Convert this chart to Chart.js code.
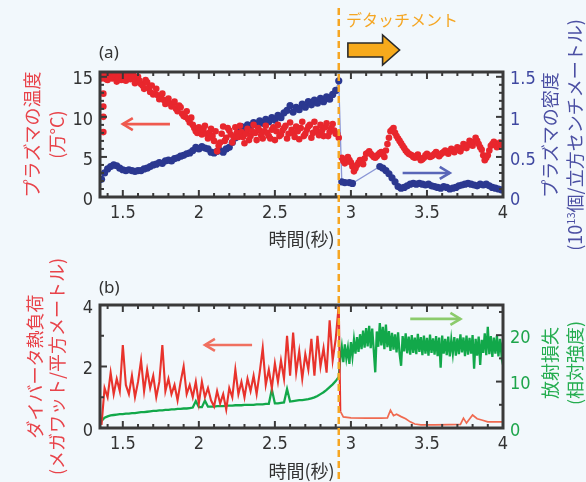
<!DOCTYPE html>
<html><head><meta charset="utf-8">
<script src="https://cdn.jsdelivr.net/npm/chart.js@4.4.1/dist/chart.umd.min.js"></script>
<style>
html,body{margin:0;padding:0;background:#f2f8fc;}
#wrap{position:relative;width:586px;height:482px;overflow:hidden;background:#f2f8fc;}
.pane{position:absolute;left:0;width:586px;}
canvas{display:block;}
.lbl{position:absolute;font-family:'Noto Sans','Noto Sans CJK JP',sans-serif;font-size:17px;color:#333;line-height:20px;white-space:nowrap;}
.rt{position:absolute;font-family:'Noto Sans CJK JP',sans-serif;font-size:18px;line-height:25px;text-align:center;white-space:nowrap;transform:rotate(-90deg);transform-origin:50% 50%;}
.rt sup{font-size:11px;line-height:0;vertical-align:7px;}
</style></head>
<body>
<div id="wrap">
<div class="pane" style="top:0;height:252px"><canvas id="ca" width="586" height="252"></canvas></div>
<div class="pane" style="top:252px;height:230px"><canvas id="cb" width="586" height="230"></canvas></div>
<div class="lbl" style="left:99px;top:42px">(a)</div>
<div class="lbl" style="left:99px;top:277px">(b)</div>
<div class="lbl" style="left:346px;top:9px;color:#f5a623;font-family:'Noto Sans CJK JP',sans-serif;font-size:16px">デタッチメント</div>
<div class="rt" style="left:432px;top:110px;width:260px;height:50px;color:#4b4fa3">プラズマの密度<br>(10<sup>13</sup>個/立方センチメートル)</div>
<div class="rt" style="left:482px;top:338px;width:160px;height:50px;color:#25ad50">放射損失<br>(相対強度)</div>
</div>
<script>
// ---------- data ----------
const xTicks = [1.5, 2, 2.5, 3, 3.5, 4];
const tempTicks = [0, 5, 10, 15];
const densTicks = [0, 0.5, 1, 1.5];
const heatTicks = [0, 2, 4];
const radTicks = [0, 10, 20];
const detachTime = 2.92;

// sample times before detachment (both panels)
const timePre = [1.36,1.38,1.40,1.42,1.44,1.46,1.48,1.50,1.52,1.54,1.56,1.58,1.60,1.62,1.64,1.66,1.68,1.70,1.72,1.74,1.76,1.78,1.80,1.82,1.84,1.86,1.88,1.90,1.92,1.94,1.96,1.98,2.00,2.02,2.04,2.06,2.08,2.10,2.12,2.14,2.16,2.18,2.20,2.22,2.24,2.26,2.28,2.30,2.32,2.34,2.36,2.38,2.40,2.42,2.44,2.46,2.48,2.50,2.52,2.54,2.56,2.58,2.60,2.62,2.64,2.66,2.68,2.70,2.72,2.74,2.76,2.78,2.80,2.82,2.84,2.86,2.88,2.90,2.92];
const timePreB = [1.37,1.39,1.41,1.43,1.45,1.47,1.49,1.51,1.53,1.55,1.57,1.59,1.61,1.63,1.65,1.67,1.69,1.71,1.73,1.75,1.77,1.79,1.81,1.83,1.85,1.87,1.89,1.91,1.93,1.95,1.97,1.99,2.01,2.03,2.05,2.07,2.09,2.11,2.13,2.15,2.17,2.19,2.21,2.23,2.25,2.27,2.29,2.31,2.33,2.35,2.37,2.39,2.41,2.43,2.45,2.47,2.49,2.51,2.53,2.55,2.57,2.59,2.61,2.63,2.65,2.67,2.69,2.71,2.73,2.75,2.77,2.79,2.81,2.83,2.85,2.87,2.89,2.91];

// (a) plasma temperature (10^4 C)
const timeTempStart = [1.372,1.372,1.372,1.372];
const tempStart = [8.1,10.0,11.3,12.9];
const tempPre = [14.8,15.3,14.6,15.5,15.0,14.4,15.4,15.0,14.5,15.5,14.9,14.2,15.0,14.1,13.5,14.3,13.1,12.8,13.5,12.2,12.9,11.6,12.3,11.3,11.9,10.7,11.2,10.1,10.7,9.3,9.0,8.2,8.7,7.8,8.9,7.3,8.5,7.0,5.7,6.8,8.8,7.4,8.3,6.8,8.7,7.5,8.1,6.7,8.5,7.6,9.0,7.1,8.3,7.3,8.9,7.6,8.4,7.1,9.0,7.8,8.6,7.3,9.3,8.0,8.8,7.2,9.4,7.9,8.8,7.4,9.4,8.2,9.0,7.6,9.2,8.1,9.1,7.9,7.4];
const tempPreB = [15.1,14.7,15.2,14.8,15.3,14.9,14.6,15.3,15.0,14.7,15.2,14.6,14.5,13.9,14.6,13.6,13.9,12.9,12.7,12.5,12.1,12.0,11.7,11.6,11.0,11.4,10.4,10.0,9.7,9.9,8.6,8.0,8.3,8.4,7.9,8.0,7.6,8.2,6.4,7.9,7.0,8.6,7.8,7.4,8.0,8.9,7.5,7.9,7.1,8.2,8.0,8.6,7.7,8.2,8.0,7.3,8.7,8.2,7.6,8.3,8.9,7.9,8.4,7.5,8.2,8.6,7.6,8.4,9.0,8.0,8.5,7.7,8.3,8.7,7.6,8.6,8.3,7.9];
const timeTempPost = [2.94,2.96,2.98,3.00,3.02,3.04,3.06,3.08,3.10,3.12,3.14,3.16,3.18,3.20,3.22,3.24,3.26,3.28,3.30,3.32,3.34,3.36,3.38,3.40,3.42,3.44,3.46,3.48,3.50,3.52,3.54,3.56,3.58,3.60,3.62,3.64,3.66,3.68,3.70,3.72,3.74,3.76,3.78,3.80,3.82,3.84,3.86,3.88,3.90,3.92,3.94,3.96,3.98,4.00];
const tempPost = [4.9,4.2,5.0,4.3,3.2,4.0,4.6,4.1,5.4,5.7,5.2,4.9,5.3,5.6,5.0,6.6,8.2,8.6,7.6,7.0,6.4,5.8,5.4,5.2,4.9,5.3,4.6,4.9,5.4,5.0,5.2,5.6,5.1,5.5,5.8,5.4,6.0,5.6,6.2,5.7,6.6,6.1,7.0,6.4,7.4,6.6,5.9,4.6,5.2,6.4,6.9,6.2,6.8,6.5];
const timeTempPostB = [2.95,2.97,2.99,3.01,3.03,3.05,3.07,3.09,3.11,3.13,3.15,3.17,3.19,3.21,3.23,3.25,3.27,3.29,3.31,3.33,3.35,3.37,3.39,3.41,3.43,3.45,3.47,3.49,3.51,3.53,3.55,3.57,3.59,3.61,3.63,3.65,3.67,3.69,3.71,3.73,3.75,3.77,3.79,3.81,3.83,3.85,3.87,3.89,3.91,3.93,3.95,3.97,3.99];
const tempPostB = [4.5,4.7,4.6,3.8,3.6,4.3,4.4,4.8,5.5,5.4,5.0,5.1,5.5,5.3,5.8,7.4,8.4,8.0,7.3,6.7,6.1,5.6,5.3,5.0,5.1,4.9,4.7,5.2,5.2,5.1,5.4,5.3,5.3,5.6,5.6,5.7,5.8,5.9,5.9,6.1,6.3,6.5,6.7,6.9,7.0,6.2,5.2,4.9,5.8,6.6,6.5,6.5,6.6];

// (a) plasma density (10^13 /cm3)
const densPre = [0.22,0.30,0.35,0.38,0.40,0.39,0.36,0.34,0.33,0.34,0.33,0.32,0.33,0.33,0.35,0.36,0.38,0.40,0.41,0.43,0.42,0.45,0.46,0.45,0.48,0.49,0.51,0.52,0.54,0.55,0.58,0.62,0.60,0.63,0.61,0.60,0.56,0.55,0.57,0.58,0.56,0.60,0.62,0.68,0.74,0.82,0.88,0.86,0.90,0.88,0.93,0.90,0.95,0.92,0.97,0.94,0.99,0.96,1.02,0.99,1.05,1.08,1.14,1.06,1.12,1.09,1.16,1.12,1.19,1.15,1.21,1.17,1.23,1.19,1.25,1.22,1.28,1.33,1.45];
const timeDensPost = [2.94,2.96,2.99,3.01,3.19,3.21,3.23,3.25,3.27,3.29,3.31,3.33,3.35,3.37,3.39,3.41,3.43,3.45,3.47,3.49,3.51,3.53,3.55,3.57,3.59,3.61,3.63,3.65,3.67,3.69,3.71,3.73,3.75,3.77,3.79,3.81,3.83,3.85,3.87,3.89,3.91,3.93,3.95,3.97,3.99];
const densPost = [0.19,0.18,0.18,0.17,0.38,0.36,0.33,0.29,0.24,0.19,0.13,0.11,0.12,0.14,0.16,0.17,0.16,0.17,0.16,0.15,0.16,0.14,0.13,0.12,0.11,0.13,0.12,0.10,0.11,0.12,0.14,0.15,0.16,0.17,0.16,0.15,0.14,0.16,0.15,0.16,0.14,0.12,0.11,0.10,0.09];

// (b) divertor heat load (MW/m2)
const heatPre = [0.1,1.3,1.0,1.8,1.1,1.6,1.2,2.7,1.4,1.1,1.7,1.0,1.5,2.2,1.2,1.9,1.3,1.7,1.0,1.5,2.7,1.2,1.6,1.1,1.4,0.9,1.5,2.0,1.1,1.4,1.0,1.5,0.8,1.5,1.0,1.3,0.9,0.7,1.2,0.8,1.1,0.6,1.3,1.0,1.9,1.1,1.5,1.0,1.6,1.2,1.7,1.1,1.8,2.6,1.4,1.9,1.3,2.1,1.5,2.2,1.6,3.0,1.7,3.1,1.8,2.5,1.6,2.4,1.9,2.9,1.7,3.0,2.0,2.6,1.8,3.5,2.2,2.9,4.0];
const timeHeatPost = [2.93,2.95,3.00,3.10,3.20,3.24,3.26,3.28,3.30,3.33,3.36,3.39,3.42,3.46,3.55,3.65,3.72,3.74,3.76,3.80,3.83,3.86,3.90,4.00];
const heatPost = [0.55,0.36,0.33,0.32,0.32,0.33,0.58,0.40,0.45,0.37,0.30,0.20,0.13,0.10,0.10,0.11,0.12,0.32,0.16,0.42,0.30,0.26,0.20,0.20];

// (b) radiation loss (relative)
const radPre = [1.5,2.2,2.5,2.7,2.8,2.9,3.0,3.0,3.1,3.1,3.2,3.2,3.3,3.4,3.4,3.5,3.6,3.7,3.7,3.8,3.8,3.9,3.9,4.0,4.0,4.1,4.1,4.2,4.2,4.3,4.4,5.8,4.5,4.5,5.9,4.6,4.6,4.6,4.7,4.7,4.7,4.8,4.8,4.8,4.9,4.9,4.9,5.0,5.0,5.0,5.0,5.1,5.1,5.1,5.2,5.2,8.3,5.3,5.3,5.4,5.5,8.4,5.7,5.8,5.9,6.0,6.0,6.1,6.2,6.4,6.6,6.9,7.3,7.7,8.2,8.8,9.4,10.1,11.0];
const timeRadPost = [2.93,2.94,2.95,2.96,2.97,2.98,2.99,3.00,3.01,3.02,3.03,3.04,3.05,3.06,3.07,3.08,3.09,3.10,3.11,3.12,3.13,3.14,3.15,3.16,3.17,3.18,3.19,3.20,3.21,3.22,3.23,3.24,3.25,3.26,3.27,3.28,3.29,3.30,3.31,3.32,3.33,3.34,3.35,3.36,3.37,3.38,3.39,3.40,3.41,3.42,3.43,3.44,3.45,3.46,3.47,3.48,3.49,3.50,3.51,3.52,3.53,3.54,3.55,3.56,3.57,3.58,3.59,3.60,3.61,3.62,3.63,3.64,3.65,3.66,3.67,3.68,3.69,3.70,3.71,3.72,3.73,3.74,3.75,3.76,3.77,3.78,3.79,3.80,3.81,3.82,3.83,3.84,3.85,3.86,3.87,3.88,3.89,3.90,3.91,3.92,3.93,3.94,3.95,3.96,3.97,3.98,3.99,4.00];
const radPost = [15.0,17.5,14.2,18.0,15.0,17.2,13.8,18.5,15.5,19.0,16.0,19.6,16.4,20.2,17.0,21.0,17.3,21.5,17.6,22.0,17.2,21.4,16.8,12.0,20.8,17.5,22.6,17.8,21.8,17.0,22.3,17.4,20.9,16.6,20.5,16.9,20.2,16.3,20.6,16.0,13.4,19.8,16.5,20.4,16.1,19.7,15.8,20.0,16.2,19.5,15.9,20.3,16.4,19.6,15.7,19.9,16.0,19.4,15.6,20.1,16.2,19.3,15.8,19.8,15.5,19.5,13.0,19.9,16.0,19.2,15.7,19.7,15.4,19.0,16.1,19.6,15.6,19.3,15.9,20.2,16.3,19.5,15.5,19.9,15.8,19.4,16.0,20.0,12.8,19.2,15.6,19.7,13.6,19.0,16.2,20.4,15.7,21.8,15.9,19.8,15.3,19.5,16.0,19.9,15.4,19.2,15.8,18.6];

// ---------- helpers ----------
const pts = (ts, vs) => ts.map((t, i) => ({x: t, y: vs[i]}));
const byX = (p, q) => p.x - q.x;
const NUMF = "'Liberation Sans Narrow','Arial Narrow','DejaVu Sans Condensed',sans-serif";
const CJK = "'Noto Sans CJK JP','Noto Sans',sans-serif";
const tickFont = {family: NUMF, size: 18};

function drawArrow(ctx, x1, y, x2, color, w, head) {
  ctx.save();
  ctx.strokeStyle = color; ctx.lineWidth = w; ctx.lineCap = 'butt'; ctx.lineJoin = 'miter';
  ctx.beginPath(); ctx.moveTo(x1, y); ctx.lineTo(x2, y); ctx.stroke();
  const d = Math.sign(x2 - x1);
  ctx.beginPath(); ctx.moveTo(x2 - d * head, y - head * 0.6); ctx.lineTo(x2, y); ctx.lineTo(x2 - d * head, y + head * 0.6); ctx.stroke();
  ctx.restore();
}
function tickVals(scale, step) {
  const out = [];
  const n0 = Math.ceil(scale.min / step - 1e-6), n1 = Math.floor(scale.max / step + 1e-6);
  for (let n = n0; n <= n1; n++) out.push(n * step);
  return out;
}
const isMajor = (v, m) => Math.abs(v / m - Math.round(v / m)) < 1e-6;

const framePlugin = {
  id: 'frame',
  afterDraw(chart, args, o) {
    const {ctx, chartArea: a, scales} = chart;
    ctx.save();
    (o.arrows || []).forEach(ar => {
      const s = scales[ar.axis];
      drawArrow(ctx, scales.x.getPixelForValue(ar.from), s.getPixelForValue(ar.y), scales.x.getPixelForValue(ar.to), ar.color, 2.6, 10);
    });
    ctx.strokeStyle = '#3a3a3a'; ctx.lineWidth = 3;
    ctx.strokeRect(a.left, a.top, a.right - a.left, a.bottom - a.top);
    ctx.lineWidth = 2;
    const line = (x1, y1, x2, y2) => { ctx.beginPath(); ctx.moveTo(x1, y1); ctx.lineTo(x2, y2); ctx.stroke(); };
    tickVals(scales.x, o.xMinor).forEach(v => {
      const px = scales.x.getPixelForValue(v); const L = isMajor(v, o.xMajor) ? 7 : 4;
      line(px, a.bottom, px, a.bottom - L); line(px, a.top, px, a.top + L);
    });
    tickVals(scales.y, o.yMinor).forEach(v => {
      const py = scales.y.getPixelForValue(v); const L = isMajor(v, o.yMajor) ? 7 : 4;
      line(a.left, py, a.left + L, py);
    });
    tickVals(scales.y2, o.y2Minor).forEach(v => {
      const py = scales.y2.getPixelForValue(v); const L = isMajor(v, o.y2Major) ? 7 : 4;
      line(a.right, py, a.right - L, py);
    });
    const xd = scales.x.getPixelForValue(detachTime);
    ctx.strokeStyle = '#f6a623'; ctx.lineWidth = 2.5; ctx.setLineDash([7, 4]);
    line(xd, o.dashTop, xd, chart.height);
    ctx.setLineDash([]);
    if (o.bigArrow) {
      const x0 = scales.x.getPixelForValue(2.98), x1 = scales.x.getPixelForValue(3.32);
      const yc = a.top - 22, hx = x1 - 17;
      ctx.beginPath();
      ctx.moveTo(x0, yc - 7); ctx.lineTo(hx, yc - 7); ctx.lineTo(hx, yc - 15); ctx.lineTo(x1, yc);
      ctx.lineTo(hx, yc + 15); ctx.lineTo(hx, yc + 7); ctx.lineTo(x0, yc + 7); ctx.closePath();
      ctx.fillStyle = '#f7aa1c'; ctx.fill();
      ctx.strokeStyle = '#2a2a2a'; ctx.lineWidth = 1.6; ctx.stroke();
    }
    ctx.restore();
  }
};

function yScale(pos, min, max, ticks, color, width, extra) {
  return Object.assign({
    position: pos, min: min, max: max,
    afterFit: s => { s.width = width; },
    afterBuildTicks: s => { s.ticks = ticks.map(v => ({value: v})); },
    ticks: {font: tickFont, color: color, padding: 7, labelOffset: 3, callback: v => String(v)},
    grid: {display: false, drawTicks: false}, border: {display: false}
  }, extra || {});
}
function xScale(h, titlePadBottom) {
  return {
    type: 'linear', min: 1.35, max: 4,
    afterFit: s => { s.height = h; },
    afterBuildTicks: s => { s.ticks = xTicks.map(v => ({value: v})); },
    ticks: {font: tickFont, color: '#333', padding: 6, autoSkip: false, maxRotation: 0, callback: v => String(v)},
    grid: {display: false, drawTicks: false}, border: {display: false},
    title: {display: true, text: '時間(秒)', color: '#333', font: {family: CJK, size: 18, lineHeight: 1.2}, padding: {top: 0, bottom: titlePadBottom}}
  };
}

// ---------- chart (a) ----------
const tempData = pts(timeTempStart, tempStart).concat(pts(timePre, tempPre), pts(timePreB, tempPreB), pts(timeTempPost, tempPost), pts(timeTempPostB, tempPostB)).sort(byX);
new Chart(document.getElementById('ca'), {
  type: 'scatter',
  data: {datasets: [
    {label: 'プラズマの温度', data: tempData,
     yAxisID: 'y', showLine: false, pointRadius: 3.3, pointBorderWidth: 0, pointBackgroundColor: '#e8262d', backgroundColor: '#e8262d'},
    {label: 'プラズマの密度', data: pts(timePre, densPre).concat(pts(timeDensPost, densPost)),
     yAxisID: 'y2', showLine: true, borderColor: '#8b97d6', borderWidth: 1.3, pointRadius: 3.6, pointBorderWidth: 0,
     pointBackgroundColor: '#2b3890', backgroundColor: '#2b3890'}
  ]},
  options: {
    responsive: false, animation: false, events: [],
    layout: {padding: {top: 72, left: 0, right: 0, bottom: 0}},
    plugins: {legend: {display: false}, tooltip: {enabled: false},
      frame: {xMinor: 0.1, xMajor: 0.5, yMinor: 1, yMajor: 5, y2Minor: 0.1, y2Major: 0.5, dashTop: 8, bigArrow: true,
        arrows: [{from: 1.81, to: 1.50, y: 9.1, axis: 'y', color: '#ef5a4f'},
                 {from: 3.34, to: 3.65, y: 0.30, axis: 'y2', color: '#5966b8'}]}},
    scales: {
      x: xScale(55, 2),
      y: yScale('left', 0, 15.6, tempTicks, '#333', 100,
        {title: {display: true, text: ['プラズマの温度', '(万°C)'], color: '#e8434a', font: {family: CJK, size: 18, lineHeight: 1.4}, padding: {top: 19.4, bottom: 0}}}),
      y2: yScale('right', 0, 1.56, densTicks, '#3e47a0', 83)
    }
  },
  plugins: [framePlugin]
});

// ---------- chart (b) ----------
new Chart(document.getElementById('cb'), {
  type: 'line',
  data: {datasets: [
    {label: 'ダイバータ熱負荷', data: pts(timePre, heatPre).concat(pts(timeHeatPost, heatPost)),
     yAxisID: 'y', borderColor: '#e8332c', borderWidth: 2.1, pointRadius: 0, tension: 0,
     segment: {borderColor: c => c.p0.parsed.x > detachTime + 0.005 ? '#f06a50' : undefined,
               borderWidth: c => c.p0.parsed.x > detachTime + 0.005 ? 1.7 : undefined}},
    {label: '放射損失', data: pts(timePre, radPre).concat(pts(timeRadPost, radPost)),
     yAxisID: 'y2', borderColor: '#12a84a', borderWidth: 2.3, pointRadius: 0, tension: 0}
  ]},
  options: {
    responsive: false, animation: false, events: [],
    layout: {padding: {top: 53, left: 0, right: 0, bottom: 0}},
    plugins: {legend: {display: false}, tooltip: {enabled: false},
      frame: {xMinor: 0.1, xMajor: 0.5, yMinor: 1, yMajor: 2, y2Minor: 5, y2Major: 10, dashTop: 0, bigArrow: false,
        arrows: [{from: 2.35, to: 2.04, y: 2.7, axis: 'y', color: '#f07060'},
                 {from: 3.39, to: 3.72, y: 23.5, axis: 'y2', color: '#8ccb6c'}]}},
    scales: {
      x: xScale(54, 0),
      y: yScale('left', 0, 4, heatTicks, '#333', 100,
        {title: {display: true, text: ['ダイバータ熱負荷', '(メガワット/平方メートル)'], color: '#e8434a', font: {family: CJK, size: 18, lineHeight: 1.25}, padding: {top: 23.7, bottom: 0}}}),
      y2: yScale('right', 0, 26.5, radTicks, '#1ea54b', 83)
    }
  },
  plugins: [framePlugin]
});
</script>
</body></html>
